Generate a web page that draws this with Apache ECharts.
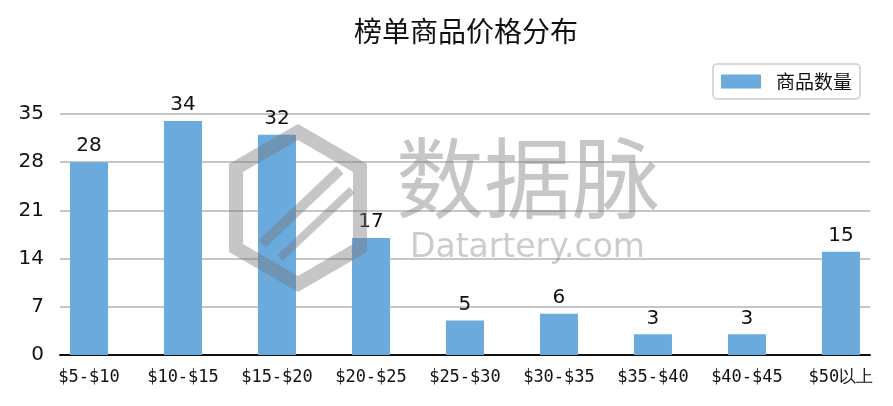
<!DOCTYPE html>
<html>
<head>
<meta charset="utf-8">
<script src="https://cdn.jsdelivr.net/npm/echarts@6/dist/echarts.min.js"></script>
<style>html,body{margin:0;padding:0;background:#fff;}#c{width:893px;height:406px;}</style>
</head>
<body>
<div id="c"></div>
<script>
var categories = ['$5-$10','$10-$15','$15-$20','$20-$25','$25-$30','$30-$35','$35-$40','$40-$45','$50以上'];
var counts = [28, 34, 32, 17, 5, 6, 3, 3, 15];
var yTicks = [0, 7, 14, 21, 28, 35];

var idx = categories.map(function(_, i){ return i; });
var chart = echarts.init(document.getElementById('c'));
chart.setOption({
  animation: false,
  backgroundColor: '#fff',
  title: {
    text: '榜单商品价格分布', left: 461, top: 12, textAlign: 'center',
    textStyle: {fontFamily: 'Noto Sans CJK SC', fontSize: 28, fontWeight: 'normal', color: '#111'}
  },
  legend: {
    right: 33, top: 64, orient: 'vertical',
    borderColor: '#cccccc', borderWidth: 1.5, borderRadius: 4,
    padding: [8, 8, 8, 8], itemWidth: 40, itemHeight: 14, itemGap: 5,
    textStyle: {fontFamily: 'Noto Sans CJK SC', fontSize: 19, color: '#111', padding: [0, 0, 0, 10]},
    data: [{name: '商品数量', icon: 'rect'}]
  },
  grid: {left: 60, right: 23, top: 114, bottom: 51},
  xAxis: {
    type: 'value', min: -0.3085, max: 8.309,
    splitLine: {show: false},
    axisLine: {show: true, onZero: false, lineStyle: {color: '#111', width: 2}},
    axisTick: {show: false},
    axisLabel: {
      customValues: idx, margin: 14,
      formatter: function(v){ return categories[Math.round(v)]; },
      fontFamily: 'DejaVu Sans Mono', fontSize: 17, color: '#111'
    }
  },
  yAxis: {
    type: 'value', min: 0, max: 35, interval: 7,
    axisLine: {show: false}, axisTick: {show: false},
    axisLabel: {fontFamily: 'DejaVu Sans', fontSize: 20, color: '#111', margin: 16,
      customValues: yTicks},
    splitLine: {lineStyle: {color: '#b3b3b3', width: 1.5}}
  },
  series: [{
    name: '商品数量', type: 'bar', barWidth: 38,
    data: counts.map(function(v, i){ return [i, v]; }),
    itemStyle: {color: '#6aaadd'},
    label: {show: true, position: 'top', distance: 6,
      formatter: function(p){ return p.value[1]; },
      fontFamily: 'DejaVu Sans', fontSize: 20, color: '#111'}
  }],
  graphic: [
    {type: 'polygon', z: 100, silent: true,
      shape: {points: [[298,132],[360,168],[360,248],[298,284],[236,248],[236,168]]},
      style: {fill: 'none', stroke: 'rgba(120,120,125,0.42)', lineWidth: 14}},
    {type: 'polyline', z: 100, silent: true,
      shape: {points: [[262,244],[340,170]]},
      style: {stroke: 'rgba(120,120,125,0.42)', lineWidth: 10}},
    {type: 'polyline', z: 100, silent: true,
      shape: {points: [[280,258],[352,190]]},
      style: {stroke: 'rgba(120,120,125,0.42)', lineWidth: 8}},
    {type: 'text', z: 100, silent: true, left: 396, top: 134,
      style: {text: '数据脉', font: '88px "Noto Sans CJK SC"', fill: 'rgba(120,120,125,0.42)'}},
    {type: 'text', z: 100, silent: true, left: 410, top: 232,
      style: {text: 'Datartery.com', font: '33px "DejaVu Sans"', fill: 'rgba(120,120,125,0.38)'}}
  ]
});
</script>
</body>
</html>
